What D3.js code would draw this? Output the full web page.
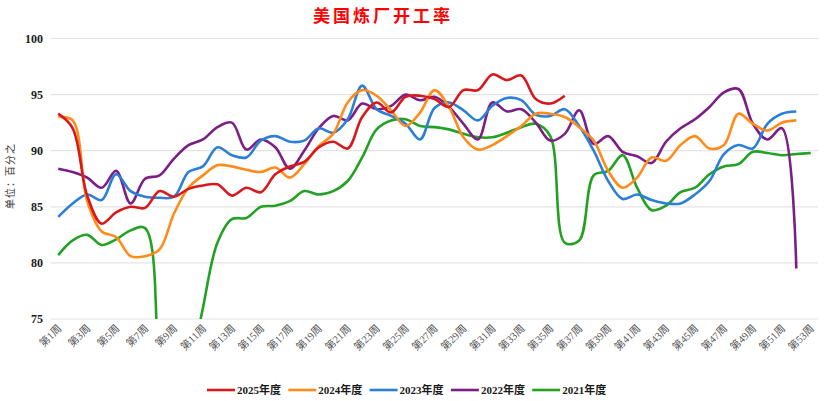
<!DOCTYPE html>
<html><head><meta charset="utf-8">
<script src="https://cdn.jsdelivr.net/npm/d3@7"></script>
<style>body{margin:0;background:#fff}svg{display:block}</style>
</head><body>
<div id="chart"></div>
<script>
const weeks = d3.range(1, 54).map(i => "第" + i + "周");
const tickLabels = weeks.filter((d, i) => i % 2 === 0);
const yTicks = [75, 80, 85, 90, 95, 100];
const seriesNames = ["2025年度", "2024年度", "2023年度", "2022年度", "2021年度"];
const seriesColors = ["#d7191c", "#ff8c1a", "#2b7fd6", "#7b1f87", "#22a122"];

const v2025 = [93.3,92.0,86.0,83.5,84.5,85.0,84.9,86.4,85.9,86.6,86.9,87.0,86.0,86.7,86.3,87.9,88.6,89.0,90.3,90.8,90.2,93.0,94.3,93.4,94.8,94.9,94.6,93.9,95.4,95.4,96.8,96.3,96.7,94.6,94.2,94.9];
const v2024 = [93.0,92.7,85.5,82.8,82.3,80.6,80.6,81.2,84.4,86.7,87.8,88.7,88.6,88.3,88.1,88.5,87.6,88.8,90.4,91.5,94.3,95.4,94.9,93.6,92.2,93.4,95.4,93.9,91.2,90.1,90.5,91.3,92.2,93.3,93.3,93.0,92.1,90.9,88.2,86.7,87.6,89.4,89.1,90.5,91.3,90.2,90.5,93.3,92.4,91.8,92.5,92.7];
const v2023 = [84.1,85.3,86.1,85.6,87.9,86.4,85.9,85.8,85.9,88.1,88.6,90.3,89.6,89.4,90.9,91.3,90.8,90.9,92.0,91.6,92.8,95.8,93.7,93.1,92.4,91.0,93.8,94.3,93.6,92.7,94.0,94.7,94.5,93.2,93.1,93.7,92.2,90.0,87.3,85.7,86.1,85.6,85.3,85.3,86.1,87.3,89.7,90.5,90.2,92.4,93.3,93.5];
const v2022 = [88.4,88.1,87.6,86.7,88.2,85.3,87.5,87.8,89.3,90.5,91.0,92.1,92.5,90.1,91.0,90.3,88.4,90.0,92.0,93.1,92.7,94.2,93.7,94.0,95.0,94.5,94.8,93.9,92.4,91.0,94.3,93.5,93.7,92.5,90.9,91.5,93.6,90.6,91.3,89.9,89.5,88.9,90.8,92.0,92.8,93.9,95.2,95.5,92.4,91.0,92.0,79.5];
const v2021 = [80.7,82.0,82.5,81.6,82.1,82.9,83.1,68.6,56.0,69.0,76.0,81.8,83.9,84.0,85.0,85.1,85.5,86.4,86.1,86.4,87.3,89.4,91.9,92.7,92.8,92.2,92.1,91.9,91.5,91.2,91.2,91.6,92.1,92.4,91.3,81.8,82.0,87.8,88.2,89.6,86.7,84.7,85.1,86.3,86.7,87.9,88.6,88.8,89.9,89.8,89.6,89.7,89.8];
const seriesValues = [v2025, v2024, v2023, v2022, v2021];

const W = 830, H = 401;
const m = {left: 51, right: 12, top: 38.5, bottom: 82};
const svg = d3.select("#chart").append("svg").attr("width", W).attr("height", H);

const x = d3.scaleBand().domain(weeks).range([m.left, W - m.right]);
const y = d3.scaleLinear().domain([75, 100]).range([H - m.bottom, m.top]);

svg.append("text").attr("x", 383).attr("y", 22).attr("text-anchor", "middle")
  .attr("fill", "#ff0000").attr("font-family", "'Noto Sans CJK SC'").attr("font-weight", "bold")
  .attr("font-size", 17).attr("letter-spacing", 3).text("美国炼厂开工率");

// grid
svg.append("g").selectAll("line").data(yTicks).join("line")
  .attr("x1", m.left).attr("x2", W - m.right)
  .attr("y1", d => y(d)).attr("y2", d => y(d))
  .attr("stroke", "#e3e3e3").attr("stroke-width", 1.2);

// y axis
const yAxis = svg.append("g").attr("transform", `translate(${m.left},0)`)
  .call(d3.axisLeft(y).tickValues(yTicks).tickSize(0).tickPadding(8));
yAxis.select(".domain").remove();
yAxis.selectAll("text").attr("font-family", "'Liberation Serif', serif").attr("font-weight", "bold")
  .attr("font-size", 12).attr("fill", "#1a1a1a");

svg.append("text").attr("transform", "translate(14,176) rotate(-90)").attr("text-anchor", "middle")
  .attr("font-family", "'Noto Sans CJK SC'").attr("font-size", 10).attr("fill", "#333")
  .attr("letter-spacing", 1).text("单位：百分之");

// x axis
const xAxis = svg.append("g").attr("transform", `translate(0,${H - m.bottom})`)
  .call(d3.axisBottom(x).tickValues(tickLabels).tickSize(0).tickPadding(0));
xAxis.select(".domain").remove();
xAxis.selectAll("text")
  .attr("font-family", "'Liberation Serif', 'Noto Sans CJK SC', serif").attr("font-size", 10.5).attr("fill", "#555")
  .attr("text-anchor", "end").attr("dy", 0)
  .attr("transform", "translate(4,10) rotate(-45)");

// lines
svg.append("clipPath").attr("id", "clip").append("rect")
  .attr("x", m.left).attr("y", m.top - 5).attr("width", W - m.left - m.right).attr("height", H - m.bottom - m.top + 5);
const line = d3.line().x((d, i) => x(weeks[i]) + x.bandwidth() / 2).y(d => y(d)).curve(d3.curveCatmullRom.alpha(0.5));
const order = [4, 3, 2, 1, 0];
svg.append("g").attr("clip-path", "url(#clip)").selectAll("path").data(order).join("path")
  .attr("d", k => line(seriesValues[k])).attr("fill", "none")
  .attr("stroke", k => seriesColors[k]).attr("stroke-width", 2.6).attr("stroke-linejoin", "round");

// legend
const lg = svg.append("g").selectAll("g").data(seriesNames).join("g")
  .attr("transform", (d, i) => `translate(${207 + i * 81.3},390)`);
lg.append("line").attr("x1", 0).attr("x2", 28).attr("stroke", (d, i) => seriesColors[i]).attr("stroke-width", 2.6);
lg.append("text").attr("x", 30).attr("y", 4).attr("font-family", "'Liberation Serif', 'Noto Sans CJK SC', serif")
  .attr("font-weight", "bold").attr("font-size", 11).attr("fill", "#1a1a1a").text(d => d);
</script>
</body></html>
